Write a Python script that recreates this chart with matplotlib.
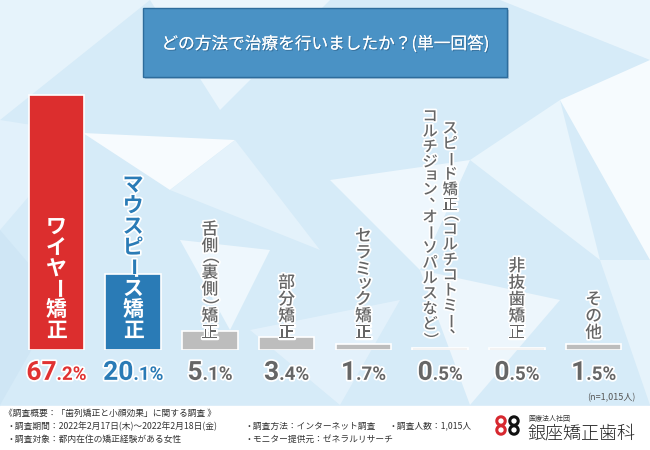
import matplotlib
matplotlib.use("Agg")
import matplotlib.pyplot as plt
import matplotlib.patheffects as pe
from matplotlib.patches import Rectangle, Polygon, Circle

plt.rcParams['font.family'] = ['Noto Sans CJK JP', 'DejaVu Sans']

# データ
categories = ["ワイヤー矯正", "マウスピース矯正", "舌側（裏側）矯正", "部分矯正",
              "セラミック矯正", "スピード矯正（コルチコトミー、\nコルチジョン、オーソパルスなど）",
              "非抜歯矯正", "その他"]
values = [67.2, 20.1, 5.1, 3.4, 1.7, 0.5, 0.5, 1.5]
bar_colors = ["#dc2e2e", "#2a7bb6"] + ["#bdbdbd"] * 6
text_colors = ["#e03232", "#2a7bb6"] + ["#666666"] * 6
title = "どの方法で治療を行いましたか？(単一回答)"
n_label = "(n=1,015人)"
footer_left = ["《調査概要：「歯列矯正と小顔効果」に関する調査 》",
               "・調査期間：2022年2月17日(木)～2022年2月18日(金)",
               "・調査対象：都内在住の矯正経験がある女性"]
footer_mid = ["・調査方法：インターネット調査", "・モニター提供元：ゼネラルリサーチ"]
footer_right = ["・調査人数：1,015人"]

fig = plt.figure(figsize=(6.5, 4.5), dpi=100)

# 背景（ピクセル座標）
bg = fig.add_axes([0, 0, 1, 1])
bg.set_xlim(0, 650)
bg.set_ylim(450, 0)
bg.axis("off")
bg.add_patch(Rectangle((0, 0), 650, 450, color="#d6ebf8", zorder=0))
tris = [
    ([(0, 0), (150, 0), (0, 120)], "#e6f3fb"),
    ([(150, 0), (330, 0), (220, 110)], "#eaf5fc"),
    ([(83, 133), (235, 140), (170, 190)], "#f7fbfe"),
    ([(0, 120), (83, 133), (0, 230)], "#e2f1fb"),
    ([(170, 190), (235, 140), (320, 250)], "#e4f2fb"),
    ([(180, 240), (270, 250), (230, 330)], "#eef7fd"),
    ([(330, 180), (470, 160), (420, 270)], "#eef7fd"),
    ([(470, 160), (560, 100), (600, 260)], "#e9f5fc"),
    ([(560, 100), (650, 60), (650, 260)], "#f6fbfe"),
    ([(500, 0), (650, 0), (650, 60)], "#eaf5fc"),
    ([(600, 260), (650, 260), (650, 405)], "#e6f3fb"),
    ([(0, 230), (60, 300), (0, 405)], "#cfe6f5"),
    ([(250, 330), (400, 300), (340, 405)], "#e3f1fb"),
    ([(420, 270), (560, 300), (470, 405)], "#edf6fc"),
]
for pts, c in tris:
    bg.add_patch(Polygon(pts, closed=True, color=c, zorder=0.5, lw=0))
bg.add_patch(Rectangle((0, 406), 650, 44, color="white", zorder=1))

# タイトルボックス
bg.add_patch(Rectangle((145, 10), 364, 69, color="#a8c4da", zorder=1.5, lw=0))
bg.add_patch(Rectangle((143, 8), 364, 69, facecolor="#4a92c5", edgecolor="#2d6c9c",
                       lw=1, zorder=2))
bg.text(325, 44, title, fontsize=12, color="white", ha="center", va="center", zorder=3,
        path_effects=[pe.withSimplePatchShadow(offset=(0.8, -0.8), shadow_rgbFace="#2a5a80",
                                               alpha=0.6), pe.Normal()])

# 棒グラフ
ax = fig.add_axes([18 / 650, 100 / 450, 614 / 650, 266 / 450])
ax.set_xlim(-0.5, 7.5)
ax.set_ylim(0, 70)
ax.axis("off")
ax.patch.set_alpha(0)
xs = list(range(len(values)))
bars = ax.bar(xs, values, width=0.72, color=bar_colors, edgecolor="white", linewidth=1.2,
              zorder=2)

rot_chars = "ー～"
open_par = "（"
close_par = "）"
small_kana = "ァィゥェォャュョッ"
punct = "、。"


def vertical_label(i, text, size, color, weight, col_dx=0.0, stroke=True, clip=None):
    em = size
    adv = []
    for ch in text:
        if ch in small_kana or ch in punct:
            adv.append(0.8 * em)
        elif ch in open_par or ch in close_par:
            adv.append(0.6 * em)
        else:
            adv.append(1.0 * em)
    y = 6.5  # 棒の基準線からの下端(pt)
    items = []
    for k in range(len(text) - 1, -1, -1):
        ch = text[k]
        cy = y + adv[k] / 2
        dx, dy, rot = col_dx, cy, 0
        if ch in rot_chars:
            rot = -90
        elif ch in open_par:
            rot = -90
            dy += 0.22 * em
        elif ch in close_par:
            rot = -90
            dy -= 0.22 * em
        elif ch in small_kana:
            dx += 0.1 * em
            dy += 0.1 * em
        elif ch in punct:
            dx += 0.45 * em
            dy += 0.45 * em
        eff = [pe.withStroke(linewidth=2.5, foreground="white")] if stroke else []
        t = ax.annotate(ch, xy=(i, 0), xytext=(dx, dy), textcoords="offset points",
                        ha="center", va="center", rotation=rot, rotation_mode="anchor",
                        fontsize=size, color=color, fontweight=weight, zorder=4,
                        path_effects=eff, annotation_clip=False)
        if clip is not None:
            t.set_clip_path(clip)
        items.append(t)
        y += adv[k]
    return items


for i, (lab, c) in enumerate(zip(categories, text_colors)):
    if i == 0:
        vertical_label(i, lab, 15, "white", "bold", stroke=False)
    elif i == 1:
        above = Rectangle((i - 0.5, values[i]), 1, 70 - values[i], transform=ax.transData)
        vertical_label(i, lab, 15, c, "bold", clip=above)
        vertical_label(i, lab, 15, "white", "bold", stroke=False, clip=bars[i])
    else:
        lines = lab.split("\n")
        size = 12 if len(lines) == 1 else 11
        ncol = len(lines)
        for j, line in enumerate(lines):
            dx = ((ncol - 1) / 2 - j) * 14.5
            vertical_label(i, line, size, c, "medium", col_dx=dx)

# パーセント表示
fig.canvas.draw()
r = fig.canvas.get_renderer()
for i, (v, c) in enumerate(zip(values, text_colors)):
    s = f"{v:.1f}"
    big, small = s.split(".")
    small = "." + small + "%"
    eff = [pe.withStroke(linewidth=2.5, foreground="white")]
    tb = ax.annotate(big, xy=(i, 0), xytext=(0, -21.5), textcoords="offset points",
                     ha="left", va="baseline", fontsize=19, color=c, fontweight="bold",
                     family="Roboto", path_effects=eff, annotation_clip=False, zorder=4)
    ts = ax.annotate(small, xy=(i, 0), xytext=(0, -21.5), textcoords="offset points",
                     ha="left", va="baseline", fontsize=13.5, color=c, fontweight="bold",
                     family="Roboto", path_effects=eff, annotation_clip=False, zorder=4)
    wb = tb.get_window_extent(r).width * 72 / fig.dpi
    ws = ts.get_window_extent(r).width * 72 / fig.dpi
    start = -(wb + ws) / 2
    tb.xyann = (start, -21.5)
    ts.xyann = (start + wb, -21.5)

# フッター
bg.text(636, 398, n_label, fontsize=6.5, color="#555555", ha="right", va="center", zorder=3)
for k, line in enumerate(footer_left):
    bg.text(4 if k == 0 else 6, 413 + 13 * k, line, fontsize=6.3, color="#333333",
            va="center", zorder=3)
for k, line in enumerate(footer_mid):
    bg.text(244, 426 + 13 * k, line, fontsize=6.3, color="#333333", va="center", zorder=3)
for k, line in enumerate(footer_right):
    bg.text(389, 426 + 13 * k, line, fontsize=6.3, color="#333333", va="center", zorder=3)

# ロゴ
for (cx, cy, c) in [(501, 421, "#d7282f"), (501, 430, "#d7282f"),
                    (514, 421, "#111111"), (514, 430, "#111111")]:
    bg.add_patch(Circle((cx, cy), 4.2, fill=False, edgecolor=c, lw=2.2, zorder=3))
bg.text(528, 419, "医療法人社団", fontsize=5, color="#333333", va="center", zorder=3)
bg.text(527, 433, "銀座矯正歯科", fontsize=13, color="#222222", va="center", zorder=3,
        fontweight="light")

fig.savefig("out.png", dpi=100)
